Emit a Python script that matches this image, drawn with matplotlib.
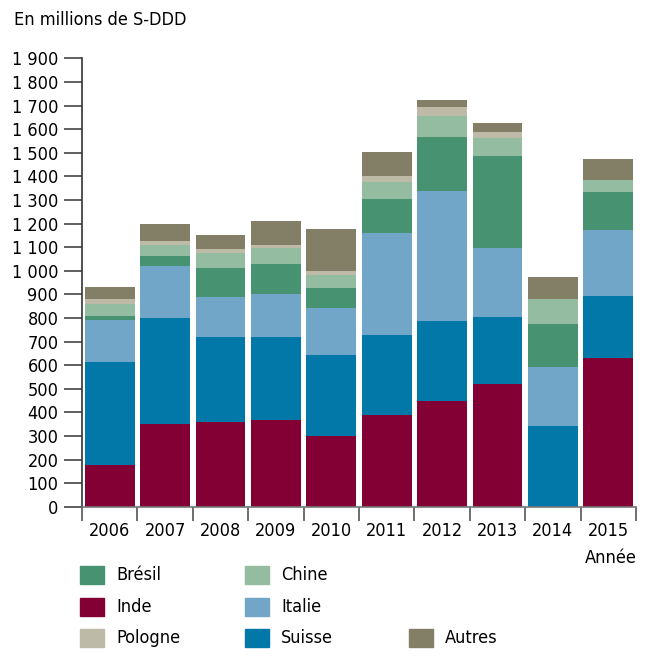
import numpy as np
import matplotlib
matplotlib.use("Agg")
import matplotlib.pyplot as plt
from matplotlib.patches import Rectangle

plt.rcParams['font.family'] = ['DejaVu Sans']
plt.rcParams['font.stretch'] = 'condensed'

# Data (millions de S-DDD), stacked bottom -> top
years = ['2006', '2007', '2008', '2009', '2010', '2011', '2012', '2013', '2014', '2015']
inde = [175, 350, 360, 368, 300, 389, 448, 520, 0, 630]
suisse = [440, 450, 360, 352, 344, 338, 339, 284, 342, 263]
italie = [175, 220, 170, 181, 199, 433, 551, 293, 250, 281]
bresil = [20, 42, 122, 129, 84, 145, 230, 390, 182, 161]
chine = [50, 47, 64, 66, 55, 71, 89, 76, 106, 50]
pologne = [20, 17, 17, 13, 17, 26, 38, 26, 0, 0]
autres = [50, 72, 59, 102, 178, 102, 30, 38, 94, 89]

series = [('Inde', inde, '#820033'),
          ('Suisse', suisse, '#0178A8'),
          ('Italie', italie, '#72A6C9'),
          ('Brésil', bresil, '#479270'),
          ('Chine', chine, '#93BCA0'),
          ('Pologne', pologne, '#BDBBA8'),
          ('Autres', autres, '#837E66')]
colors = {name: c for name, _, c in series}

fig = plt.figure(figsize=(6.51, 6.61), dpi=100)
ax = fig.add_axes([0.126, 0.2334, 0.851, 0.6784])

x = np.arange(len(years))
bottom = np.zeros(len(years))
for name, vals, c in series:
    ax.bar(x, vals, bottom=bottom, width=0.9, color=c, label=name)
    bottom += np.array(vals)

ax.set_xlim(-0.5, len(years) - 0.5)
ax.set_ylim(0, 1900)
yt = np.arange(0, 2000, 100)
ax.set_yticks(yt)
ax.set_yticklabels([f'{v:,}'.replace(',', ' ') for v in yt], fontsize=13)
ax.set_xticks(x)
ax.set_xticklabels(years, fontsize=13)
ax.set_xticks(np.arange(-0.5, len(years)), minor=True)
ax.tick_params(axis='x', which='major', length=0, pad=11)
ax.tick_params(axis='x', which='minor', length=10, width=1.2, color='#555555', direction='out')
ax.tick_params(axis='y', length=13, width=1.2, color='#444444', pad=4)

for s in ['top', 'right']:
    ax.spines[s].set_visible(False)
ax.spines['left'].set_color('#333333')
ax.spines['left'].set_linewidth(1.2)
ax.spines['bottom'].set_color('#777777')
ax.spines['bottom'].set_linewidth(1.2)

fig.text(14 / 651, 1 - 20 / 661, 'En millions de S-DDD', fontsize=13, va='center', ha='left')
fig.text(637 / 651, 1 - 558 / 661, 'Année', fontsize=13, va='center', ha='right')

# legend laid out as in the original (rows)
layout = [('Brésil', 0, 0), ('Chine', 1, 0),
          ('Inde', 0, 1), ('Italie', 1, 1),
          ('Pologne', 0, 2), ('Suisse', 1, 2), ('Autres', 2, 2)]
col_x = [80, 245, 409]
row_y = [575, 607, 638]
for name, ci, ri in layout:
    px, py = col_x[ci], row_y[ri]
    fig.patches.append(Rectangle((px / 651, 1 - (py + 9) / 661), 24 / 651, 18 / 661,
                                 transform=fig.transFigure, color=colors[name]))
    fig.text((px + 36) / 651, 1 - py / 661, name, fontsize=13, va='center', ha='left')

fig.savefig('out.png', dpi=100)
